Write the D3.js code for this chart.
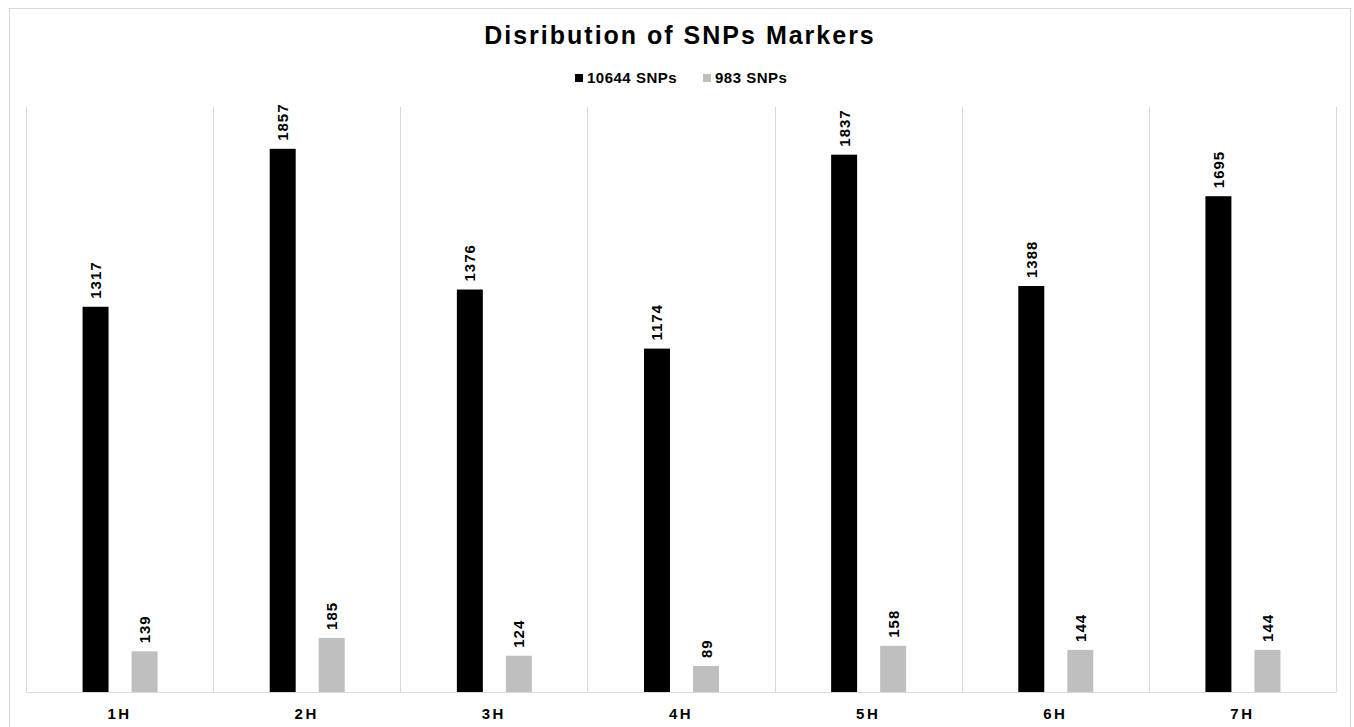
<!DOCTYPE html>
<html>
<head>
<meta charset="utf-8">
<script src="https://cdn.jsdelivr.net/npm/d3@7"></script>
<style>
    body { margin: 0; background: #fff; }
    text { font-family: Arial, "Liberation Sans", sans-serif; font-weight: bold; fill: #000; }
</style>
</head>
<body>
<div class="graph"></div>
<script>
// Chart data
const chromosomes = ["1H", "2H", "3H", "4H", "5H", "6H", "7H"];
const seriesNames = ["10644 SNPs", "983 SNPs"];
const snps10644 = [1317, 1857, 1376, 1174, 1837, 1388, 1695];
const snps983 = [139, 185, 124, 89, 158, 144, 144];
const colors = ["#000000", "#bfbfbf"];

const dimensions = {
    width: 1354,
    height: 727,
    margins: { top: 107, right: 18, bottom: 35, left: 26 }
};
dimensions.boundedWidth = dimensions.width - dimensions.margins.left - dimensions.margins.right;
dimensions.boundedHeight = dimensions.height - dimensions.margins.top - dimensions.margins.bottom;

const wrapper = d3.select(".graph")
    .append("svg")
        .attr("width", dimensions.width)
        .attr("height", dimensions.height);

// outer frame
wrapper.append("rect")
    .attr("x", 9.5).attr("y", 8.5)
    .attr("width", 1341).attr("height", 730)
    .attr("fill", "none")
    .attr("stroke", "#d9d9d9");

const bounds = wrapper.append("g")
    .attr("transform", `translate(${dimensions.margins.left},${dimensions.margins.top})`);

const xScale = d3.scaleBand()
    .domain(chromosomes)
    .range([0, dimensions.boundedWidth]);

const yScale = d3.scaleLinear()
    .domain([0, 2000])
    .range([dimensions.boundedHeight, 0]);

// sub scale for the two series inside a category
const subScale = d3.scaleBand()
    .domain(seriesNames)
    .range([-37, 38])
    .paddingInner(0.47);

// category separators
bounds.append("g")
    .selectAll("line")
    .data(d3.range(chromosomes.length + 1))
    .join("line")
        .attr("x1", i => Math.round(i * xScale.step()) + 0.5)
        .attr("x2", i => Math.round(i * xScale.step()) + 0.5)
        .attr("y1", 0)
        .attr("y2", dimensions.boundedHeight)
        .attr("stroke", "#d9d9d9");

// x axis
const xAxis = bounds.append("g")
    .attr("transform", `translate(0,${dimensions.boundedHeight})`)
    .call(d3.axisBottom(xScale).tickSize(0).tickPadding(16));
xAxis.select(".domain").attr("stroke", "#d9d9d9");
xAxis.selectAll("text")
    .attr("font-size", 15)
    .attr("letter-spacing", "2.5px")
    .attr("font-family", "Arial, 'Liberation Sans', sans-serif")
    .attr("font-weight", "bold")
    .attr("fill", "#000");

const rows = chromosomes.map((c, i) => ({
    chrom: c,
    values: [snps10644[i], snps983[i]]
}));

const groups = bounds.append("g")
    .selectAll("g")
    .data(rows)
    .join("g")
        .attr("transform", d => `translate(${xScale(d.chrom) + xScale.bandwidth() / 2},0)`);

const bars = groups.selectAll("g")
    .data(d => d.values.map((v, j) => ({ name: seriesNames[j], value: v, j })))
    .join("g");

bars.append("rect")
    .attr("x", d => subScale(d.name))
    .attr("y", d => yScale(d.value))
    .attr("width", subScale.bandwidth())
    .attr("height", d => dimensions.boundedHeight - yScale(d.value))
    .attr("fill", d => colors[d.j]);

bars.append("text")
    .attr("transform", d => `translate(${subScale(d.name) + subScale.bandwidth() / 2 + 5.5},${yScale(d.value) - 8}) rotate(-90)`)
    .attr("font-size", 15)
    .attr("letter-spacing", "1px")
    .text(d => d.value);

// title
wrapper.append("text")
    .attr("x", 680)
    .attr("y", 44)
    .attr("text-anchor", "middle")
    .attr("font-size", 25)
    .attr("letter-spacing", "2px")
    .text("Disribution of SNPs Markers");

// legend
const legendX = [575, 703];
const legend = wrapper.append("g")
    .selectAll("g")
    .data(seriesNames)
    .join("g")
        .attr("transform", (d, i) => `translate(${legendX[i]},72)`);
legend.append("rect")
    .attr("width", 8).attr("height", 8)
    .attr("y", 2)
    .attr("fill", (d, i) => colors[i]);
legend.append("text")
    .attr("x", 12)
    .attr("y", 11)
    .attr("font-size", 15)
    .attr("letter-spacing", "0.5px")
    .text(d => d);
</script>
</body>
</html>
